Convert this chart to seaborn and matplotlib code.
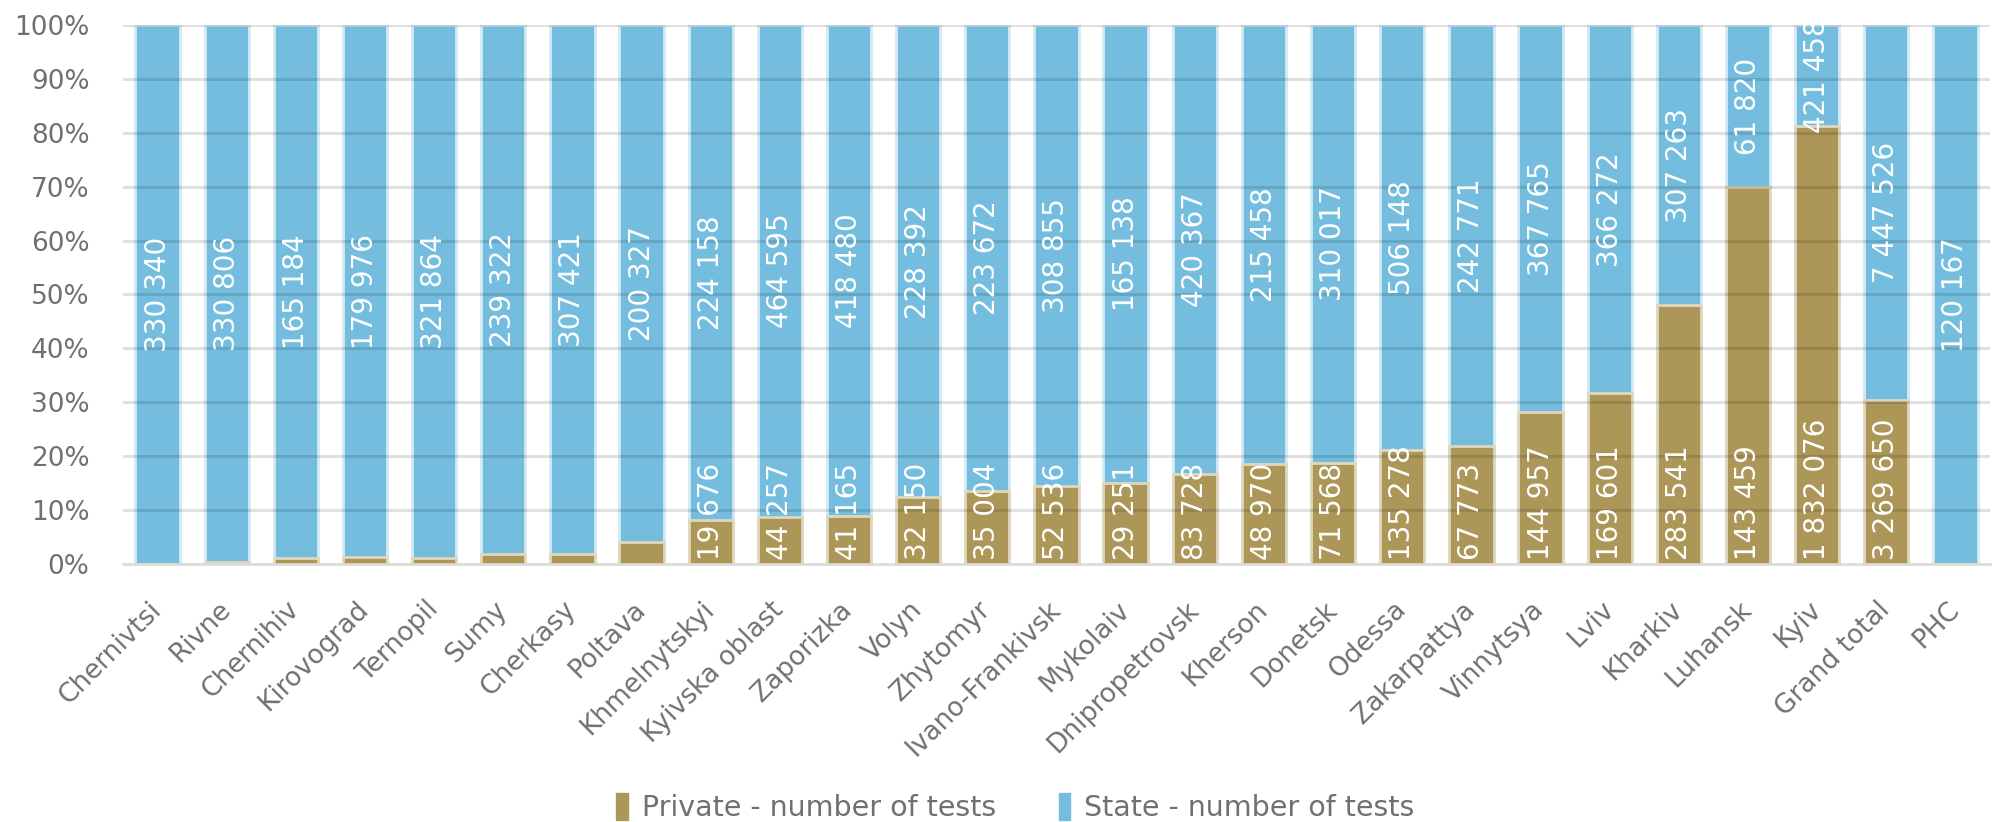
import numpy as np
import pandas as pd
import matplotlib
matplotlib.use('Agg')
import matplotlib.pyplot as plt
import seaborn as sns
from matplotlib.patches import Patch
from matplotlib.transforms import ScaledTranslation

regions = ['Chernivtsi', 'Rivne', 'Chernihiv', 'Kirovograd', 'Ternopil', 'Sumy', 'Cherkasy',
           'Poltava', 'Khmelnytskyi', 'Kyivska oblast', 'Zaporizka', 'Volyn', 'Zhytomyr',
           'Ivano-Frankivsk', 'Mykolaiv', 'Dnipropetrovsk', 'Kherson', 'Donetsk', 'Odessa',
           'Zakarpattya', 'Vinnytsya', 'Lviv', 'Kharkiv', 'Luhansk', 'Kyiv', 'Grand total', 'PHC']
# private counts of the first bars are not labelled in the source
private = [0, 1000, 2000, 2190, 3900, 4390, 5630, 8560, 19676, 44257, 41165, 32150, 35004,
           52536, 29251, 83728, 48970, 71568, 135278, 67773, 144957, 169601, 283541, 143459,
           1832076, 3269650, 0]
state = [330340, 330806, 165184, 179976, 321864, 239322, 307421, 200327, 224158, 464595,
         418480, 228392, 223672, 308855, 165138, 420367, 215458, 310017, 506148, 242771,
         367765, 366272, 307263, 61820, 421458, 7447526, 120167]

c_private = '#AC9759'
c_state = '#74BDDF'
grey = '#707070'

df = pd.DataFrame({'Region': regions, 'Private': private, 'State': state})
df['Total'] = df['Private'] + df['State']
df['private_pct'] = df['Private'] / df['Total'] * 100
df['total_pct'] = df['Total'] / df['Total'] * 100

sns.set_style('white')
plt.rcParams['font.family'] = ['DejaVu Sans']

fig = plt.figure(figsize=(19.99, 8.22), dpi=100)
ax = fig.add_axes([0.0615, 0.3139, 0.934, 0.6557])

sns.barplot(data=df, x='Region', y='total_pct', color=c_state, width=0.64, saturation=1,
            edgecolor='#d3eaf5', linewidth=2, ax=ax, zorder=2)
sns.barplot(data=df, x='Region', y='private_pct', color=c_private, width=0.64, saturation=1,
            edgecolor='#e0d7bd', linewidth=2, ax=ax, zorder=3)

# gridlines sit over the bars, slightly see-through
for v in range(10, 101, 10):
    ax.axhline(v, color='black', alpha=0.12, linewidth=2.2, zorder=4)

fmt = lambda v: f'{v:,}'.replace(',', ' ')
for i, r in df.iterrows():
    mid = (r['private_pct'] + 100) / 2
    ax.text(i, mid, fmt(r['State']), rotation=90, ha='center', va='center',
            color='white', fontsize=20, clip_on=True, zorder=5)
    if r['private_pct'] > 5:
        ax.text(i, 0.8, fmt(r['Private']), rotation=90, ha='center', va='bottom',
                color='white', fontsize=20, clip_on=True, zorder=5)

ax.set_ylim(0, 100)
ax.set_xlim(-0.5, len(regions) - 0.5)
ax.set_yticks(np.arange(0, 101, 10))
ax.set_yticklabels([f'{v}%' for v in range(0, 101, 10)], fontsize=19, color=grey)
ax.set_xlabel('')
ax.set_ylabel('')
ax.set_xticks(range(len(regions)))
ax.set_xticklabels(regions, rotation=45, ha='right', va='center', rotation_mode='anchor',
                   fontsize=19, color=grey)
shift = ScaledTranslation(6 / 100, 0, fig.dpi_scale_trans)
for lab in ax.get_xticklabels():
    lab.set_transform(lab.get_transform() + shift)
ax.tick_params(axis='x', which='major', length=0, pad=30)
ax.tick_params(axis='y', length=0, pad=24)
ax.set_xticks(np.arange(-0.5, len(regions)), minor=True)
ax.tick_params(axis='x', which='minor', length=9, color='#dcdcdc', width=2)
for s in ['top', 'right', 'left']:
    ax.spines[s].set_visible(False)
ax.spines['bottom'].set_color('#dcdcdc')
ax.spines['bottom'].set_linewidth(2)

handles = [Patch(color=c_private, label='Private - number of tests'),
           Patch(color=c_state, label='State - number of tests')]
fig.legend(handles=handles, loc='center', bbox_to_anchor=(0.508, 0.018), ncol=2,
           frameon=False, fontsize=20.5, labelcolor=grey, handlelength=0.4,
           handleheight=1.1, handletextpad=0.5, columnspacing=2.2)

fig.savefig('out.png', dpi=100)
